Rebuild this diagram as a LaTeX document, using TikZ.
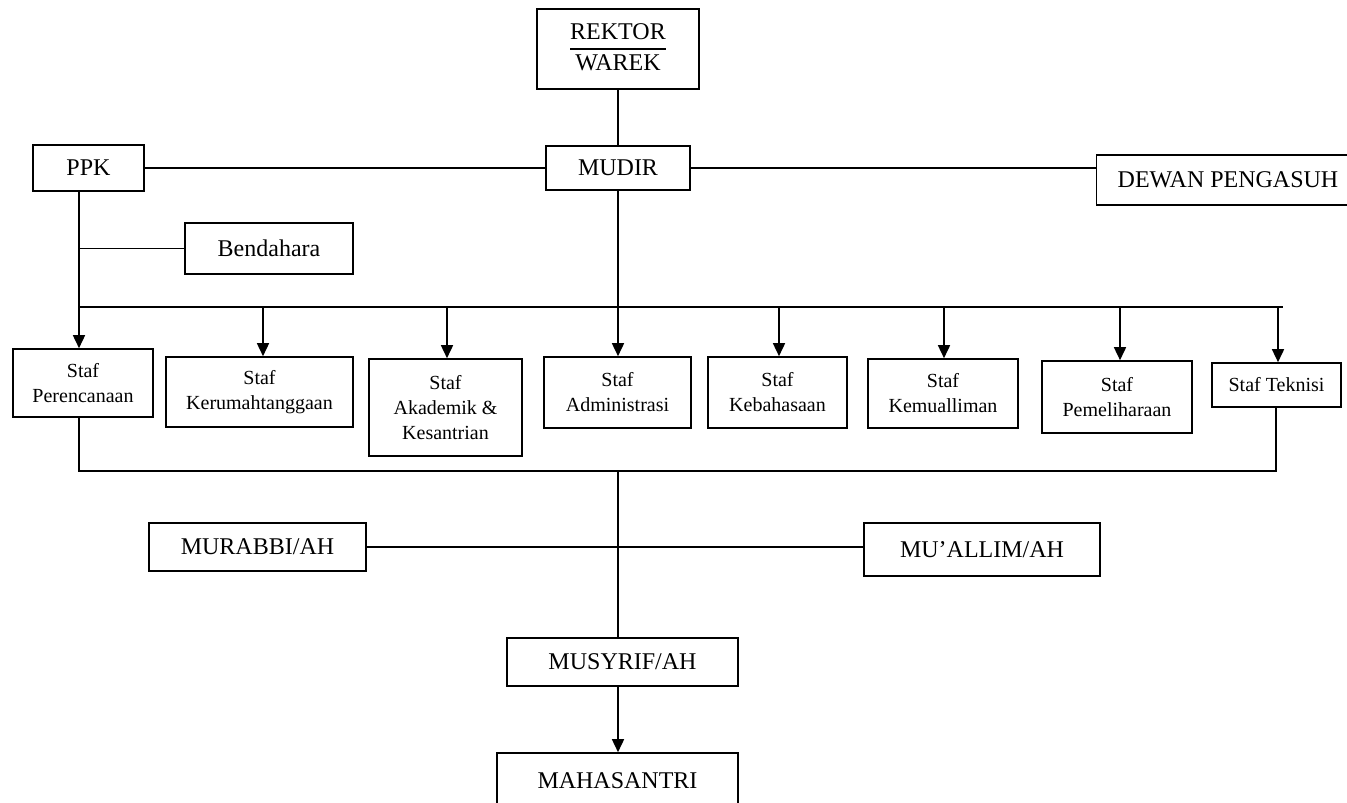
\documentclass[tikz,border=0pt]{standalone}
\usepackage{fontspec}
\setmainfont{Liberation Serif}
\usetikzlibrary{arrows.meta}

\tikzset{
  box/.style={draw, line width=0.8pt, inner sep=0pt, align=center,
    font=\fontsize{12}{14.5}\selectfont},
  stafbox/.style={box, font=\fontsize{10}{12.5}\selectfont},
  arr/.style={-{Triangle[width=6pt,length=6.5pt]}}
}

\begin{document}
\begin{tikzpicture}[x=0.5pt, y=-0.5pt, line width=0.8pt]
        \useasboundingbox (0,0) rectangle (1347,802);

        \node[box, minimum width=81pt, minimum height=40pt] (rektor) at (618,49)
          {\setlength{\arrayrulewidth}{0.8pt}\begin{tabular}{@{}c@{}}REKTOR\\\hline WAREK\end{tabular}};
        \node[box, minimum width=72pt, minimum height=22pt] (mudir) at (618,168) {MUDIR};
        \node[box, minimum width=55.5pt, minimum height=23pt] (ppk) at (88.5,168) {PPK};
        \node[box, minimum width=131.5pt, minimum height=25pt] (dewan) at (1228,180) {DEWAN PENGASUH};
        \node[box, minimum width=84pt, minimum height=25.5pt] (bendahara) at (269,248.5) {Bendahara};

        \node[stafbox, minimum width=70pt, minimum height=34pt] (s1) at (83,383) {Staf\\Perencanaan};
        \node[stafbox, minimum width=93.5pt, minimum height=35pt] (s2) at (259.5,392) {Staf\\Kerumahtanggaan};
        \node[stafbox, minimum width=76.5pt, minimum height=48.5pt] (s3) at (445.5,407.5) {Staf\\Akademik \&\\Kesantrian};
        \node[stafbox, minimum width=73.5pt, minimum height=35.5pt] (s4) at (617.5,392.5) {Staf\\Administrasi};
        \node[stafbox, minimum width=69.5pt, minimum height=35.5pt] (s5) at (777.5,392.5) {Staf\\Kebahasaan};
        \node[stafbox, minimum width=75pt, minimum height=34.5pt] (s6) at (943,393.5) {Staf\\Kemualliman};
        \node[stafbox, minimum width=75pt, minimum height=36pt] (s7) at (1117,397) {Staf\\Pemeliharaan};
        \node[stafbox, minimum width=64.5pt, minimum height=22pt] (s8) at (1276.5,385) {Staf Teknisi};

        \node[box, minimum width=108.5pt, minimum height=24pt] (murabbi) at (257.5,547) {MURABBI/AH};
        \node[box, minimum width=118pt, minimum height=26.5pt] (muallim) at (982,549.5) {MU’ALLIM/AH};
        \node[box, minimum width=115.5pt, minimum height=24pt] (musyrif) at (622.5,662) {MUSYRIF/AH};
        \node[box, minimum width=120.5pt, minimum height=28pt] (mahasantri) at (617.5,781) {MAHASANTRI};

        \coordinate (b1) at (79,307);
        \coordinate (b2) at (1283,307);
        \coordinate (c1) at (79,471);
        \coordinate (c0) at (618,471);
        \coordinate (c2) at (1276,471);

        \draw (rektor.south) -- (mudir.north);
        \draw (ppk.east) -- (ppk.east -| mudir.west);
        \draw (mudir.east) -- (mudir.east -| dewan.west);
        \draw (ppk.south -| b1) -- (b1) -- (b2);
        \draw (bendahara.west -| b1) -- (bendahara.west);
        \draw (mudir.south) -- (mudir.south |- b1);

        \foreach \n/\x in {s1/79, s2/263, s3/447, s4/618, s5/779, s6/944, s7/1120, s8/1278} {
          \coordinate (t\n) at (\x,307);
          \draw[arr] (t\n) -- (t\n |- \n.north);
        }

        \draw (s1.south -| c1) -- (c1) -- (c2) -- (s8.south -| c2);
        \draw (c0) -- (musyrif.north -| c0);
        \draw (murabbi.east) -- (murabbi.east -| muallim.west);
        \draw[arr] (musyrif.south -| c0) -- (mahasantri.north -| c0);
\end{tikzpicture}
\end{document}
